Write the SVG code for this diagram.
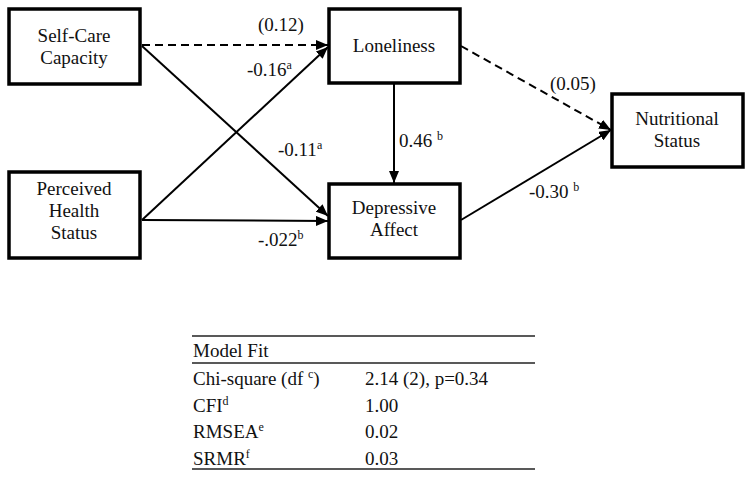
<svg xmlns="http://www.w3.org/2000/svg" width="752" height="477" viewBox="0 0 752 477" font-family="'Liberation Serif', 'DejaVu Serif', serif">
<style>
text{font-family:'Liberation Serif','Times New Roman','DejaVu Serif',serif;font-size:19px;fill:#111}
.box{fill:#fff;stroke:#000;stroke-width:3.5}
.c{stroke:#000;stroke-width:2;fill:none}
.d{stroke-dasharray:8,5}
.m{text-anchor:middle}
.sup{font-size:12px}
.rule{stroke:#222;stroke-width:1.3}
</style>
<defs>
<marker id="ah" viewBox="0 0 12 10" refX="12" refY="5" markerWidth="12" markerHeight="10" orient="auto" markerUnits="userSpaceOnUse">
<path d="M0,0 L12,5 L0,10 z" fill="#000"/>
</marker>
</defs>
<rect width="752" height="477" fill="#fff"/>
<g id="connectors">
<line class="c d" x1="142" y1="45" x2="328" y2="45" marker-end="url(#ah)"/>
<line class="c" x1="142" y1="46" x2="328" y2="216" marker-end="url(#ah)"/>
<line class="c" x1="142" y1="220" x2="328" y2="47" marker-end="url(#ah)"/>
<line class="c" x1="142" y1="220" x2="328" y2="221" marker-end="url(#ah)"/>
<line class="c" x1="394" y1="84" x2="394" y2="183" marker-end="url(#ah)"/>
<line class="c d" x1="461" y1="46" x2="611" y2="130" marker-end="url(#ah)"/>
<line class="c" x1="461" y1="220" x2="611" y2="130" marker-end="url(#ah)"/>
</g>
<g id="labels">
<text x="281" y="31" class="m">(0.12)</text>
<text x="247" y="76">-0.16<tspan class="sup" dy="-7">a</tspan></text>
<text x="278" y="156">-0.11<tspan class="sup" dy="-7">a</tspan></text>
<text x="258" y="246">-.022<tspan class="sup" dy="-7">b</tspan></text>
<text x="399" y="147">0.46 <tspan class="sup" dy="-7">b</tspan></text>
<text x="550" y="90">(0.05)</text>
<text x="529" y="198">-0.30 <tspan class="sup" dy="-7">b</tspan></text>
</g>
<g id="self-care">
<rect class="box" x="9" y="9" width="131" height="75"/>
<text x="74" y="42" class="m">Self-Care</text>
<text x="74" y="64" class="m">Capacity</text>
</g>
<g id="perceived-health">
<rect class="box" x="9" y="172" width="131" height="86"/>
<text x="74" y="195" class="m">Perceived</text>
<text x="74" y="217" class="m">Health</text>
<text x="74" y="239" class="m">Status</text>
</g>
<g id="loneliness">
<rect class="box" x="329" y="9" width="131" height="74"/>
<text x="394" y="52" class="m">Loneliness</text>
</g>
<g id="depressive-affect">
<rect class="box" x="329" y="184" width="131" height="74"/>
<text x="394" y="214" class="m">Depressive</text>
<text x="394" y="236" class="m">Affect</text>
</g>
<g id="nutritional-status">
<rect class="box" x="612" y="94" width="131" height="73"/>
<text x="677" y="125" class="m">Nutritional</text>
<text x="677" y="147" class="m">Status</text>
</g>
<g id="model-fit-table">
<line class="rule" x1="192" y1="336" x2="535" y2="336"/>
<line class="rule" x1="192" y1="363" x2="535" y2="363"/>
<line class="rule" x1="192" y1="469" x2="535" y2="469"/>
<text x="193" y="357">Model Fit</text>
<text x="193" y="385">Chi-square (df <tspan class="sup" dy="-7">c</tspan><tspan dy="7">)</tspan></text>
<text x="365" y="385">2.14 (2), p=0.34</text>
<text x="193" y="412">CFI<tspan class="sup" dy="-7">d</tspan></text>
<text x="365" y="412">1.00</text>
<text x="193" y="438">RMSEA<tspan class="sup" dy="-7">e</tspan></text>
<text x="365" y="438">0.02</text>
<text x="193" y="465">SRMR<tspan class="sup" dy="-7">f</tspan></text>
<text x="365" y="465">0.03</text>
</g>
</svg>
